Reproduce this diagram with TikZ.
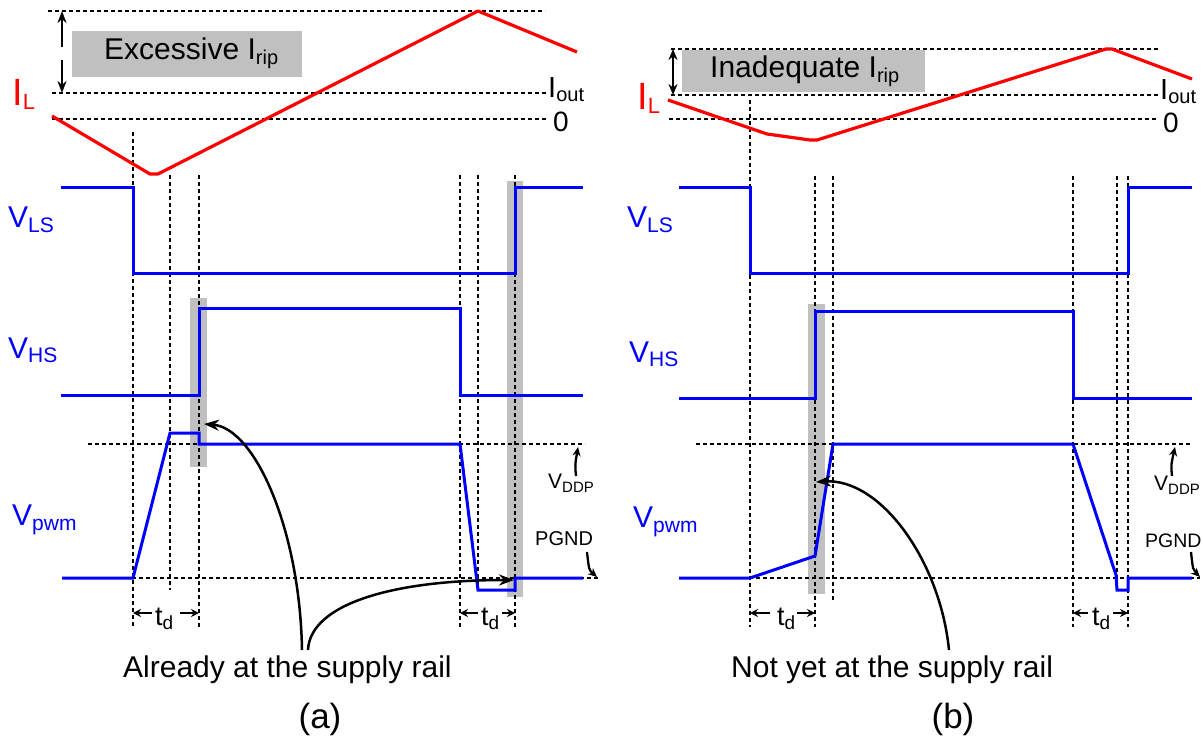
\documentclass[tikz,border=0pt]{standalone}
\usepackage{fontspec}
\setmainfont{Liberation Sans}
\usetikzlibrary{arrows.meta}
\definecolor{barg}{RGB}{192,192,192}
\newcommand\sublab[5][5pt]{{\fontsize{#2}{#2}\selectfont #4}\raisebox{-#1}{\fontsize{#3}{#3}\selectfont #5}}
\newcommand\fs[1]{\fontsize{#1}{#1}\selectfont}
\begin{document}
\begin{tikzpicture}[x=1pt,y=-1pt,
  dline/.style={black, line width=2pt, dash pattern=on 4pt off 3pt},
  sig/.style={blue, line width=3pt, line join=miter},
  cur/.style={red, line width=3.2pt, line join=round},
  bar/.style={fill=barg, draw=none},
  lbl/.style={inner sep=0pt, anchor=base west},
  ctr/.style={inner sep=0pt, anchor=base},
  ann/.style={black, line width=2.5pt, -{Stealth[length=15pt,width=11pt]}},
  sml/.style={black, line width=2.3pt, -{Stealth[length=9pt,width=8pt]}},
  dbl/.style={black, line width=2.3pt, -{Stealth[length=12pt,width=9pt]}},
  tda/.style={black, line width=2.3pt, -{Stealth[length=8pt,width=8pt]}},
  ]
\useasboundingbox (0,0) rectangle (1203,738);

% ---------------- panel (a) ----------------
% gray highlights
\fill[bar] (72,31) rectangle (302,77);
\fill[bar] (190,298) rectangle (207,467);
\fill[bar] (507,181) rectangle (523,597);
% dashed reference lines
\draw[dline] (48,11) -- (545,11);
\draw[dline] (52,93) -- (546,93);
\draw[dline] (52,119) -- (546,119);
\draw[dline] (88,444) -- (585,444);
\draw[dline] (62,578) -- (598,578);
\draw[dline] (133,132) -- (133,627);
\draw[dline] (170,175) -- (170,590);
\draw[dline] (199,175) -- (199,627);
\draw[dline] (460,175) -- (460,627);
\draw[dline] (478,175) -- (478,590);
\draw[dline] (515,175) -- (515,627);
% double arrow (ripple)
\draw[dbl] (62,47) -- (62,11);
\draw[dbl] (62,60) -- (62,93);
% waveforms
\draw[cur] (52,116) -- (150,174) -- (158,174) -- (478,11) -- (577,52);
\draw[sig] (61,188) -- (133,188) -- (133,274) -- (515,274) -- (515,188) -- (583,188);
\draw[sig] (61,395) -- (199,395) -- (199,309) -- (460,309) -- (460,395) -- (583,395);
\draw[sig] (62,578) -- (133,578) -- (170,433) -- (199,433) -- (199,444) -- (460,444) -- (478,590) -- (515,590) -- (515,578) -- (583,578);
% labels
\node[lbl, red] (ILa) at (12,106) {\sublab[4pt]{38}{22}{I}{L}};
\node[lbl] (exa) at (104,60) {\sublab{30}{20}{Excessive I}{rip}};
\node[lbl] (ioa) at (548,98) {\sublab[4pt]{29}{20}{I}{out}};
\node[lbl] (za) at (553,132) {\fs{28}0};
\node[lbl, blue] (vlsa) at (8,228) {\sublab{30}{21}{V}{LS}};
\node[lbl, blue] (vhsa) at (8,358) {\sublab{30}{21}{V}{HS}};
\node[lbl, blue] (vpwa) at (12,525) {\sublab{30}{21}{V}{pwm}};
\node[lbl] (vddpa) at (548,488) {\sublab[4pt]{21}{15}{V}{DDP}};
\node[lbl] (pgnda) at (535,545) {\fs{20}PGND};
\node[lbl] (td1a) at (155,625) {\sublab[4pt]{27}{19}{t}{d}};
\node[lbl] (td2a) at (481,625) {\sublab[4pt]{27}{19}{t}{d}};
\node[lbl] (txa) at (123,677) {\fs{30}Already at the supply rail};
\node[ctr] (capa) at (320,728) {\fs{35}(a)};
% td arrows
\draw[tda] (152,613) -- (133,613);
\draw[tda] (180,613) -- (199,613);
\draw[tda] (478,613) -- (460,613);
\draw[tda] (502,613) -- (515,613);
% small label arrows
\coordinate (vddpa0) at (576,476);
\coordinate (vddpa1) at (578,447);
\draw[sml] (vddpa0) .. controls (575,465) .. (vddpa1);
\coordinate (pgnda0) at (587,552);
\coordinate (pgnda1) at (597,577);
\draw[sml] (pgnda0) .. controls (589,570) .. (pgnda1);
% annotation arrows
\coordinate (sa1) at (302,650);
\coordinate (ea1) at (204,424);
\coordinate (sa2) at (308,650);
\coordinate (ea2) at (514,580);
\draw[ann] (sa1) .. controls (300,530) and (255,428) .. (ea1);
\draw[ann] (sa2) .. controls (310,605) and (390,580) .. (ea2);

% ---------------- panel (b) ----------------
\fill[bar] (682,50) rectangle (925,92);
\fill[bar] (808,304) rectangle (825,594);
\draw[dline] (671,49) -- (1158,49);
\draw[dline] (671,95) -- (1158,95);
\draw[dline] (669,119) -- (1158,119);
\draw[dline] (696,444) -- (1192,444);
\draw[dline] (679,578) -- (1200,578);
\draw[dline] (750,100) -- (750,627);
\draw[dline] (815,176) -- (815,627);
\draw[dline] (833,176) -- (833,602);
\draw[dline] (1073,176) -- (1073,627);
\draw[dline] (1117,176) -- (1117,590);
\draw[dline] (1128,176) -- (1128,627);
\draw[black, line width=2.3pt, {Stealth[length=11pt,width=9pt]}-{Stealth[length=11pt,width=9pt]}] (673,49) -- (673,95);
\draw[cur] (668,100) -- (767,134) -- (810,140) -- (817,140) -- (1106,49) -- (1112,49) -- (1192,79);
\draw[sig] (679,188) -- (750,188) -- (750,274) -- (1128,274) -- (1128,188) -- (1192,188);
\draw[sig] (679,398) -- (815,398) -- (815,312) -- (1073,312) -- (1073,398) -- (1192,398);
\draw[sig] (679,578) -- (750,578) -- (815,556) -- (833,444) -- (1073,444) -- (1116,575) -- (1117,590) -- (1128,590) -- (1128,578) -- (1192,578);
\node[lbl, red] (ILb) at (637,110) {\sublab[4pt]{38}{22}{I}{L}};
\node[lbl] (inb) at (710,78) {\sublab{30}{20}{Inadequate I}{rip}};
\node[lbl] (iob) at (1160,100) {\sublab[4pt]{29}{20}{I}{out}};
\node[lbl] (zb) at (1163,133) {\fs{28}0};
\node[lbl, blue] (vlsb) at (627,228) {\sublab{30}{21}{V}{LS}};
\node[lbl, blue] (vhsb) at (629,362) {\sublab{30}{21}{V}{HS}};
\node[lbl, blue] (vpwb) at (633,527) {\sublab{30}{21}{V}{pwm}};
\node[lbl] (vddpb) at (1154,490) {\sublab[4pt]{21}{15}{V}{DDP}};
\node[lbl] (pgndb) at (1145,547) {\fs{19.5}PGND};
\node[lbl] (td1b) at (777,625) {\sublab[4pt]{27}{19}{t}{d}};
\node[lbl] (td2b) at (1092,625) {\sublab[4pt]{27}{19}{t}{d}};
\node[lbl] (txb) at (731,677) {\fs{30}Not yet at the supply rail};
\node[ctr] (capb) at (953,728) {\fs{35}(b)};
\draw[tda] (770,613) -- (750,613);
\draw[tda] (797,613) -- (815,613);
\draw[tda] (1088,613) -- (1073,613);
\draw[tda] (1113,613) -- (1128,613);
\coordinate (vddpb0) at (1172,476);
\coordinate (vddpb1) at (1175,447);
\draw[sml] (vddpb0) .. controls (1171,465) .. (vddpb1);
\coordinate (pgndb0) at (1191,552);
\coordinate (pgndb1) at (1200,577);
\draw[sml] (pgndb0) .. controls (1193,570) .. (pgndb1);
\coordinate (sb1) at (949,650);
\coordinate (eb1) at (816,482);
\draw[ann] (sb1) .. controls (940,560) and (880,478) .. (eb1);
\end{tikzpicture}
\end{document}
